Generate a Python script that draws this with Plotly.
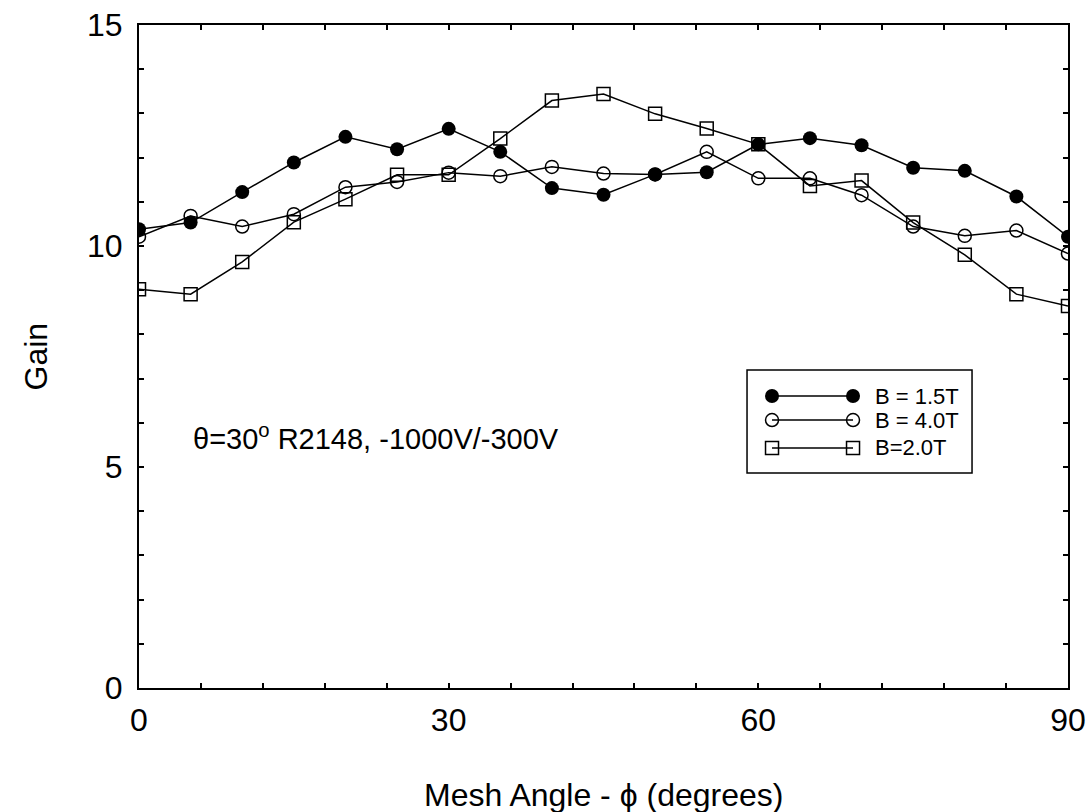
import plotly.graph_objects as go

# ---- data ----
phi = [0, 5, 10, 15, 20, 25, 30, 35, 40, 45, 50, 55, 60, 65, 70, 75, 80, 85, 90]
gain_b15 = [10.38, 10.53, 11.22, 11.89, 12.47, 12.19, 12.65, 12.13, 11.31, 11.16,
            11.62, 11.67, 12.30, 12.44, 12.28, 11.77, 11.70, 11.12, 10.21]
gain_b40 = [10.21, 10.68, 10.44, 10.72, 11.33, 11.45, 11.66, 11.58, 11.79, 11.64,
            11.62, 12.13, 11.53, 11.53, 11.15, 10.44, 10.23, 10.35, 9.83]
gain_b20 = [9.02, 8.91, 9.64, 10.54, 11.06, 11.61, 11.61, 12.43, 13.29, 13.44,
            12.99, 12.66, 12.30, 11.36, 11.48, 10.53, 9.80, 8.91, 8.64]
series_names = ["B = 1.5T", "B = 4.0T", "B=2.0T"]
x_ticks = [0, 30, 60, 90]
y_ticks = [0, 5, 10, 15]

FONT = "Arial, Liberation Sans, sans-serif"
BLACK = "#000000"

styles = [
    dict(symbol="circle", size=14, color=BLACK, line=dict(width=0, color=BLACK)),
    dict(symbol="circle-open", size=13, color=BLACK, line=dict(width=1.5, color=BLACK)),
    dict(symbol="square-open", size=13, color=BLACK, line=dict(width=1.5, color=BLACK)),
]

fig = go.Figure()
for name, ys, st in zip(series_names, [gain_b15, gain_b40, gain_b20], styles):
    fig.add_trace(go.Scatter(
        x=phi, y=ys, name=name, mode="lines+markers",
        line=dict(color=BLACK, width=1.5), marker=st, showlegend=False,
    ))

# ---- custom legend (line with marker at both ends), drawn on a hidden [0,1] overlay ----
leg_x = [0.6814, 0.7686]
leg_rows = [0.4404, 0.4042, 0.3620]
for name, st, yr in zip(series_names, styles, leg_rows):
    fig.add_trace(go.Scatter(
        x=leg_x, y=[yr, yr], xaxis="x2", yaxis="y2", mode="lines+markers",
        line=dict(color=BLACK, width=1.5), marker=st, showlegend=False,
        hoverinfo="skip", cliponaxis=False,
    ))
    fig.add_annotation(
        x=0.790, y=yr, xref="paper", yref="paper", text=name, showarrow=False,
        xanchor="left", yanchor="middle", font=dict(family=FONT, size=22, color=BLACK),
    )
fig.add_shape(type="rect", xref="paper", yref="paper",
              x0=0.6545, x1=0.8967, y0=0.3243, y1=0.4796,
              line=dict(color=BLACK, width=1.5), fillcolor="rgba(0,0,0,0)", layer="below")

axis_common = dict(
    showgrid=False, zeroline=False, showline=True, linecolor=BLACK, linewidth=2,
    mirror="ticks", ticks="inside", ticklen=5, tickwidth=1.5, tickcolor=BLACK,
    tickfont=dict(family=FONT, size=32, color=BLACK), automargin=False,
)
fig.update_layout(
    width=1090, height=812,
    margin=dict(l=139, r=22, t=25, b=124),
    paper_bgcolor="white", plot_bgcolor="white",
    font=dict(family=FONT, color=BLACK),
    xaxis=dict(range=[0, 90], tickvals=x_ticks, ticklabelstandoff=3,
               minor=dict(dtick=6, ticks="inside", ticklen=5, tickwidth=1.5, tickcolor=BLACK),
               **axis_common),
    yaxis=dict(range=[0, 15], tickvals=y_ticks, ticklabelstandoff=8,
               minor=dict(dtick=1, ticks="inside", ticklen=5, tickwidth=1.5, tickcolor=BLACK),
               **axis_common),
    xaxis2=dict(range=[0, 1], overlaying="x", anchor="y2", visible=False, fixedrange=True),
    yaxis2=dict(range=[0, 1], overlaying="y", anchor="x2", visible=False, fixedrange=True),
    showlegend=False,
)

# axis titles
fig.add_annotation(x=0.5, y=-0.1614, xref="paper", yref="paper",
                   text="Mesh Angle - ϕ (degrees)", showarrow=False,
                   xanchor="center", yanchor="middle",
                   font=dict(family=FONT, size=32, color=BLACK))
fig.add_annotation(x=-0.1109, y=0.5, xref="paper", yref="paper",
                   text="Gain", showarrow=False, textangle=-90,
                   xanchor="center", yanchor="middle",
                   font=dict(family=FONT, size=32, color=BLACK))

# in-plot label
fig.add_annotation(x=0.0555, y=0.378, xref="paper", yref="paper",
                   text="θ=30<sup>o</sup> R2148, -1000V/-300V", showarrow=False,
                   xanchor="left", yanchor="middle",
                   font=dict(family=FONT, size=29, color=BLACK))

fig.write_html("out.html")
